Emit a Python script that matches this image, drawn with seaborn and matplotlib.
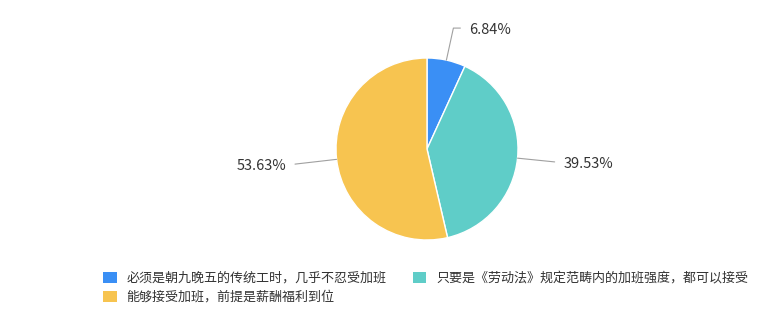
import numpy as np
import matplotlib
matplotlib.use("Agg")
import matplotlib.pyplot as plt
import seaborn as sns
from matplotlib.patches import Patch

categories = [
    "必须是朝九晚五的传统工时，几乎不忍受加班",
    "只要是《劳动法》规定范畴内的加班强度，都可以接受",
    "能够接受加班，前提是薪酬福利到位",
]
values = [6.84, 39.53, 53.63]
colors = ["#3a8ff5", "#5fcdc8", "#f7c450"]

sns.set_theme(style="white")
plt.rcParams["font.family"] = ["Noto Sans CJK SC", "DejaVu Sans"]

W, H = 776, 318
fig = plt.figure(figsize=(W / 100, H / 100), dpi=100)
ax = fig.add_axes([0, 0, 1, 1])

cx, cy, r = 427, H - 149, 91
wedges, _ = ax.pie(values, colors=colors, startangle=90, counterclock=False,
                   center=(cx, cy), radius=r,
                   wedgeprops=dict(edgecolor="white", linewidth=1.0))
ax.set_xlim(0, W)
ax.set_ylim(0, H)
ax.set_aspect("equal")
ax.axis("off")

ext = [1.36, 1.41, 1.46]
for w, v, e in zip(wedges, values, ext):
    ang = np.deg2rad((w.theta1 + w.theta2) / 2)
    x0, y0 = cx + r * np.cos(ang), cy + r * np.sin(ang)
    x1, y1 = cx + e * r * np.cos(ang), cy + e * r * np.sin(ang)
    side = 1 if np.cos(ang) >= 0 else -1
    hlen = 7 if abs(np.cos(ang)) < 0.5 else 0
    x2 = x1 + side * hlen
    ax.plot([x0, x1, x2], [y0, y1, y1], color="#a0a0a0", lw=0.8)
    ax.text(x2 + side * 9, y1 - 2, f"{v:.2f}%", ha="left" if side > 0 else "right",
            va="center", fontsize=10.5, color="#333333")

order = [0, 2, 1]
handles = [Patch(facecolor=colors[i], edgecolor="none") for i in order]
labels = [categories[i] for i in order]
fig.legend(handles, labels, loc="upper left", bbox_to_anchor=(103 / W, 1 - 272 / H),
           ncol=2, frameon=False, fontsize=9.4, borderpad=0, borderaxespad=0,
           handlelength=1.05, handleheight=0.85, handletextpad=0.75,
           columnspacing=2.0, labelspacing=0.45, labelcolor="#333333")

fig.savefig("out.png", dpi=100, facecolor="white")
